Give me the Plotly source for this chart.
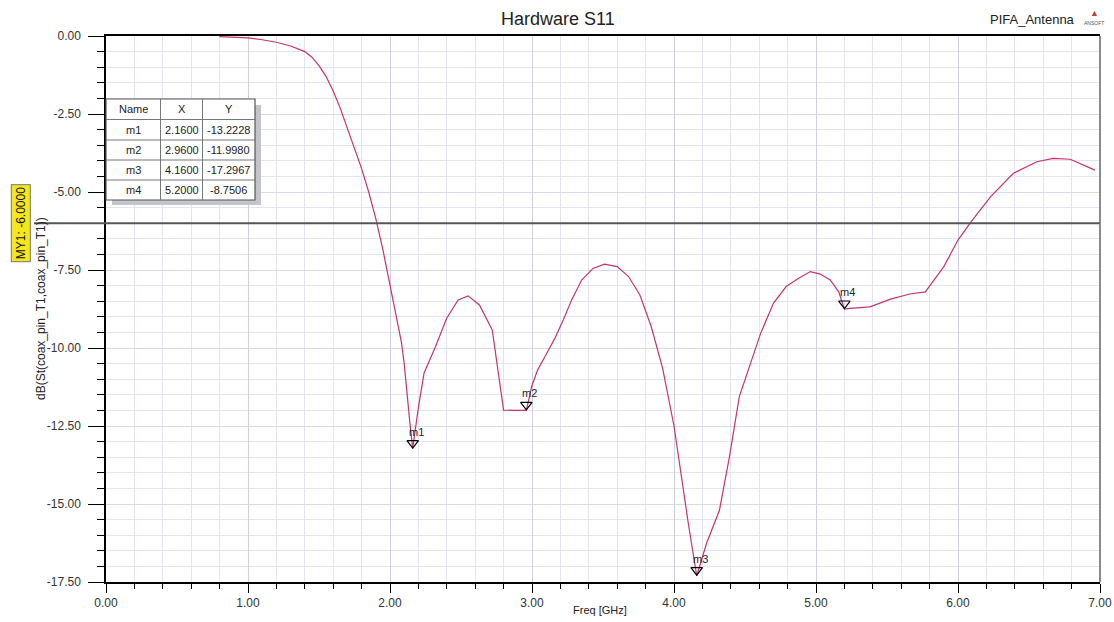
import plotly.graph_objects as go

# ---------------- data ----------------
freq = [0.80, 0.90, 1.00, 1.10, 1.20, 1.30, 1.40, 1.45, 1.50, 1.55, 1.60, 1.65, 1.70,
        1.75, 1.80, 1.85, 1.90, 1.95, 2.00, 2.05, 2.08, 2.10, 2.12, 2.14, 2.16, 2.20,
        2.24, 2.32, 2.40, 2.48, 2.55, 2.63, 2.72, 2.80, 2.88, 2.96, 3.00, 3.04, 3.10,
        3.16, 3.22, 3.28, 3.35, 3.43, 3.51, 3.60, 3.68, 3.76, 3.84, 3.92, 4.00, 4.04,
        4.10, 4.16, 4.23, 4.32, 4.39, 4.46, 4.55, 4.61, 4.70, 4.79, 4.875, 4.96, 5.03,
        5.10, 5.16, 5.20, 5.24, 5.38, 5.52, 5.66, 5.77, 5.90, 6.00, 6.085, 6.23, 6.39,
        6.555, 6.67, 6.79, 6.965]
s11 = [-0.02, -0.03, -0.06, -0.12, -0.20, -0.32, -0.50, -0.68, -0.95, -1.30, -1.76, -2.32, -2.95,
       -3.58, -4.25, -5.00, -5.85, -6.85, -8.00, -9.15, -9.80, -10.50, -11.56, -12.40, -13.22, -11.90,
       -10.80, -9.96, -9.04, -8.46, -8.33, -8.62, -9.42, -11.99, -12.00, -12.00, -11.20, -10.70, -10.20,
       -9.70, -9.10, -8.45, -7.82, -7.45, -7.31, -7.39, -7.71, -8.30, -9.32, -10.65, -12.50, -13.80,
       -15.60, -17.30, -16.25, -15.20, -13.50, -11.56, -10.38, -9.53, -8.57, -8.03, -7.77, -7.55, -7.63,
       -7.82, -8.20, -8.75, -8.73, -8.68, -8.44, -8.27, -8.20, -7.39, -6.54, -6.00, -5.15, -4.40,
       -4.03, -3.92, -3.95, -4.30]

marker_names = ["m1", "m2", "m3", "m4"]
marker_x = [2.16, 2.96, 4.16, 5.20]
marker_y = [-13.2228, -11.9980, -17.2967, -8.7506]
marker_x_txt = ["2.1600", "2.9600", "4.1600", "5.2000"]
marker_y_txt = ["-13.2228", "-11.9980", "-17.2967", "-8.7506"]

my1_value = -6.0
x_ticks = [0, 1, 2, 3, 4, 5, 6, 7]
x_ticklabels = ["0.00", "1.00", "2.00", "3.00", "4.00", "5.00", "6.00", "7.00"]
y_ticks = [0, -2.5, -5, -7.5, -10, -12.5, -15, -17.5]
y_ticklabels = ["0.00", "-2.50", "-5.00", "-7.50", "-10.00", "-12.50", "-15.00", "-17.50"]

# ---------------- layout helpers (pixel -> paper) ----------------
W, H = 1114, 622
L, R, T, B = 106, 1100, 36, 582
def px(x):
    return (x - L) / (R - L)
def py(y):
    return 1 - (y - T) / (B - T)

FONT = "Liberation Sans, Arial, sans-serif"
curve_color = "#c4346f"

fig = go.Figure()
fig.add_trace(go.Scatter(x=freq, y=s11, mode="lines",
                         line=dict(color=curve_color, width=1.2),
                         hoverinfo="skip", showlegend=False))

# marker triangles (tip on the point)
tri_off = 5.5 / ((B - T) / 17.5)
fig.add_trace(go.Scatter(x=marker_x, y=[v + tri_off for v in marker_y], mode="markers",
                         marker=dict(symbol="triangle-down-open", size=10,
                                     color="black", line=dict(width=1.2, color="black")),
                         hoverinfo="skip", showlegend=False))

shapes = []

def note(x, y, text, size=12, color="#222", xanchor="center", yanchor="middle",
         xref="paper", yref="paper", **kw):
    fig.add_annotation(x=x, y=y, xref=xref, yref=yref, text=text, showarrow=False,
                       xanchor=xanchor, yanchor=yanchor,
                       font=dict(family=FONT, size=size, color=color), **kw)

for n, mx, my in zip(marker_names, marker_x, marker_y):
    note(mx, my, n, size=11, xanchor="left", yanchor="bottom", xref="x", yref="y",
         xshift=-6, yshift=9)

# MY1 horizontal line
shapes.append(dict(type="line", xref="paper", yref="y", x0=px(34), x1=1,
                   y0=my1_value, y1=my1_value, line=dict(color="#555555", width=2)))
# right border
shapes.append(dict(type="line", xref="paper", yref="paper", x0=1, x1=1, y0=0, y1=1,
                   line=dict(color="#666666", width=1.5)))

note(px(21), my1_value, "MY1: -6.0000", yref="y", textangle=-90,
     bgcolor="#f4e81c", bordercolor="#777777", borderwidth=1, borderpad=2, color="#111")

# marker table
tx = [106, 160.5, 202.5, 255]
ty = [99, 119.5, 140, 160, 180, 200]
shapes.append(dict(type="rect", xref="paper", yref="paper", x0=px(112), x1=px(261),
                   y0=py(105), y1=py(205), fillcolor="#c4c4cc", line=dict(width=0), layer="above"))
shapes.append(dict(type="rect", xref="paper", yref="paper", x0=px(tx[0]), x1=px(tx[-1]),
                   y0=py(ty[0]), y1=py(ty[-1]), fillcolor="white",
                   line=dict(color="#555555", width=1.2), layer="above"))
for xx in tx[1:-1]:
    shapes.append(dict(type="line", xref="paper", yref="paper", x0=px(xx), x1=px(xx),
                       y0=py(ty[0]), y1=py(ty[-1]), line=dict(color="#777777", width=1), layer="above"))
for yy in ty[1:-1]:
    shapes.append(dict(type="line", xref="paper", yref="paper", x0=px(tx[0]), x1=px(tx[-1]),
                       y0=py(yy), y1=py(yy), line=dict(color="#777777", width=1), layer="above"))
cols = [(tx[i] + tx[i + 1]) / 2 for i in range(3)]
rows = [(ty[i] + ty[i + 1]) / 2 for i in range(5)]
header = ["Name", "X", "Y"]
table_rows = [header] + [[n, a, b] for n, a, b in zip(marker_names, marker_x_txt, marker_y_txt)]
for r, row in enumerate(table_rows):
    for c, txt in enumerate(row):
        note(px(cols[c]), py(rows[r]), txt, size=11)

# titles and labels
note(px(558), py(19), "Hardware S11", size=18)
note(px(1077), py(19), "PIFA_Antenna", size=13, xanchor="right")
note(px(1094), py(13), "▲", size=9, color="#b04848")
note(px(1094), py(23), "ANSOFT", size=5, color="#555")
note(px(41), 0.5, "dB(St(coax_pin_T1,coax_pin_T1))", size=12, textangle=-90)
note(px(600), py(610), "Freq [GHz]", size=11)

fig.update_layout(
    width=W, height=H,
    margin=dict(l=L, r=W - R, t=T, b=H - B, autoexpand=False),
    paper_bgcolor="white", plot_bgcolor="white",
    shapes=shapes,
    showlegend=False,
    xaxis=dict(range=[0, 7], tickmode="array", tickvals=x_ticks, ticktext=x_ticklabels,
               automargin=False,
               showgrid=True, gridcolor="#cdcfdb", gridwidth=1,
               showline=True, linecolor="black", linewidth=1.5, mirror=True,
               ticks="outside", ticklen=9, tickcolor="black", tickwidth=1.2,
               tickfont=dict(family=FONT, size=12, color="#333"),
               zeroline=False, fixedrange=True,
               minor=dict(dtick=0.2, showgrid=True, gridcolor="#e3e4ee", gridwidth=1,
                          ticks="outside", ticklen=5, tickcolor="black", tickwidth=1)),
    yaxis=dict(range=[-17.5, 0], tickmode="array", tickvals=y_ticks, ticktext=y_ticklabels,
               automargin=False,
               showgrid=True, gridcolor="#d8d9e4", gridwidth=1,
               showline=True, linecolor="black", linewidth=1.5,
               ticks="outside", ticklen=16, tickcolor="black", tickwidth=1.2,
               ticklabelstandoff=5,
               tickfont=dict(family=FONT, size=12, color="#333"),
               zeroline=False, fixedrange=True,
               minor=dict(dtick=0.5, showgrid=True, gridcolor="#e3e4ee", gridwidth=1,
                          ticks="outside", ticklen=7, tickcolor="black", tickwidth=1)),
)

fig.write_html("out.html")
